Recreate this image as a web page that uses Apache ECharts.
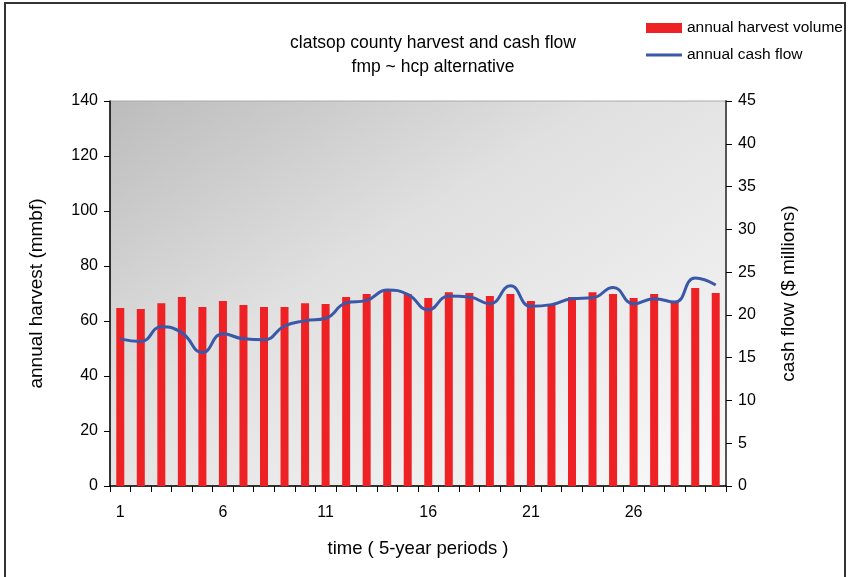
<!DOCTYPE html>
<html><head><meta charset="utf-8">
<script src="https://cdn.jsdelivr.net/npm/echarts@6/dist/echarts.min.js"></script>
<style>html,body{margin:0;padding:0;background:#fff}#c{width:850px;height:577px}</style>
</head><body><div id="c"></div>
<script>
const categories = Array.from({length:30},(_,i)=>String(i+1));
const harvest = [64.7,64.4,66.5,68.7,65.1,67.3,65.8,65.1,65.1,66.5,66.2,68.7,69.8,71.3,69.8,68.4,70.5,70.2,69.1,69.8,67.3,66.2,68.7,70.5,69.8,68.4,69.8,67.3,72.0,70.2];
const cashFlow = [17.2,16.9,18.6,17.9,15.6,17.8,17.2,17.1,18.7,19.3,19.6,21.4,21.7,22.9,22.4,20.6,22.2,22.1,21.3,23.4,21.0,21.2,21.9,22.0,23.2,21.3,21.9,21.5,24.3,23.5];
const leftTicks = {min:0,max:140,interval:20};
const rightTicks = {min:0,max:45,interval:5};
const font = 'Liberation Sans, Arial, sans-serif';
const chart = echarts.init(document.getElementById('c'));
chart.setOption({
  animation:false,
  backgroundColor:'#fff',
  textStyle:{fontFamily:font},
  title:{text:'clatsop county harvest and cash flow\nfmp ~ hcp alternative',left:428,textAlign:'center',top:26,
    textStyle:{fontSize:17.5,fontWeight:'normal',color:'#000',lineHeight:24,fontFamily:font}},
  legend:{orient:'vertical',left:641,top:15,itemGap:11,itemWidth:36,itemHeight:10,
    textStyle:{fontSize:15.5,color:'#000',fontFamily:font},
    data:[{name:'annual harvest volume',icon:'rect'},{name:'annual cash flow',icon:'path://M0,0H36V3H0Z'}]},
  graphic:[{type:'rect',shape:{x:5,y:3,width:840,height:580},style:{fill:'none',stroke:'#333',lineWidth:2},silent:true}],
  grid:{left:110,right:850-726,top:101,bottom:577-486,show:true,borderWidth:1,borderColor:'#aaa',
    backgroundColor:{type:'linear',global:true,x:110,y:101,x2:456,y2:655,colorStops:[{offset:0,color:'#bcbcbc'},{offset:0.4,color:'#e0e0e0'},{offset:1,color:'#f9f9f9'}]}},
  xAxis:{type:'category',data:categories,boundaryGap:true,
    name:'time ( 5-year periods )',nameLocation:'middle',nameGap:53,nameTextStyle:{fontSize:18.5,color:'#000'},
    axisLine:{lineStyle:{color:'#000',width:1.5}},
    axisTick:{show:true,interval:0,length:6,lineStyle:{color:'#000'}},
    axisLabel:{interval:4,fontSize:16,color:'#000',margin:19}},
  yAxis:[
    {type:'value',min:leftTicks.min,max:leftTicks.max,interval:leftTicks.interval,position:'left',
      name:'annual harvest (mmbf)',nameLocation:'middle',nameGap:64,nameRotate:90,nameTextStyle:{fontSize:19,color:'#000'},
      axisLine:{show:true,lineStyle:{color:'#000',width:1.5}},axisTick:{show:true,length:6,lineStyle:{color:'#000'}},
      splitLine:{show:false},axisLabel:{fontSize:16,color:'#000',margin:12}},
    {type:'value',min:rightTicks.min,max:rightTicks.max,interval:rightTicks.interval,position:'right',
      name:'cash flow ($ millions)',nameLocation:'middle',nameGap:53,nameRotate:90,nameTextStyle:{fontSize:19,color:'#000'},
      axisLine:{show:true,lineStyle:{color:'#555',width:2}},axisTick:{show:true,length:6,lineStyle:{color:'#000'}},
      splitLine:{show:false},axisLabel:{fontSize:16,color:'#000',margin:12}}
  ],
  series:[
    {name:'annual harvest volume',type:'bar',data:harvest,barWidth:8,itemStyle:{color:'#ee2124'},yAxisIndex:0},
    {name:'annual cash flow',type:'line',data:cashFlow,yAxisIndex:1,smooth:0.5,symbol:'none',
      lineStyle:{color:'#3a58a8',width:3},itemStyle:{color:'#3a58a8'}}
  ]
});
</script></body></html>
